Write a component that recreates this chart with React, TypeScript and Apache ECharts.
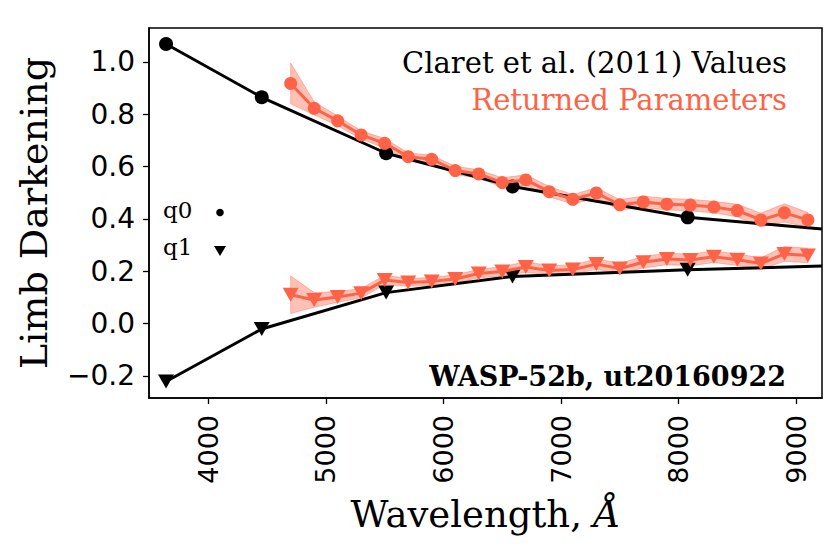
import React, { useEffect, useRef } from "react";
import * as echarts from "echarts";

// Claret et al. (2011) tabulated values (UBVRI) and where the curve meets the right frame
const claretWavelengths = [3640, 4454, 5512, 6587, 8077];
const claretQ0 = [1.069, 0.865, 0.651, 0.524, 0.406];
const claretQ1 = [-0.222, -0.021, 0.118, 0.180, 0.205];
const claretEdgeWavelength = 9220;
const claretEdgeQ0 = 0.361;
const claretEdgeQ1 = 0.22;

// Returned parameters
const fitWavelengths = [
  4700, 4900, 5100, 5300, 5500, 5700, 5900, 6100, 6300, 6500, 6700, 6900,
  7100, 7300, 7500, 7700, 7900, 8100, 8300, 8500, 8700, 8900, 9100,
];
const fitQ0 = [
  0.918, 0.823, 0.775, 0.721, 0.689, 0.638, 0.628, 0.585, 0.572, 0.539, 0.549,
  0.504, 0.475, 0.499, 0.454, 0.465, 0.456, 0.453, 0.445, 0.432, 0.396, 0.423,
  0.396,
];
const fitQ0Err = [
  0.078, 0.025, 0.018, 0.016, 0.018, 0.015, 0.015, 0.016, 0.016, 0.018, 0.02,
  0.02, 0.018, 0.02, 0.02, 0.022, 0.022, 0.022, 0.022, 0.024, 0.026, 0.035,
  0.028,
];
const fitQ1 = [
  0.11, 0.09, 0.101, 0.116, 0.166, 0.157, 0.161, 0.17, 0.191, 0.199, 0.216,
  0.203, 0.206, 0.227, 0.21, 0.234, 0.247, 0.243, 0.255, 0.244, 0.229, 0.266,
  0.26,
];
const fitQ1Err = [
  0.072, 0.028, 0.02, 0.018, 0.018, 0.015, 0.015, 0.016, 0.016, 0.018, 0.02,
  0.018, 0.018, 0.02, 0.02, 0.022, 0.022, 0.022, 0.022, 0.022, 0.022, 0.028,
  0.028,
];

const xTicks = [4000, 5000, 6000, 7000, 8000, 9000];
const yTicks = [-0.2, 0, 0.2, 0.4, 0.6, 0.8, 1.0];

const X_MIN = 3495;
const X_MAX = 9220;
const Y_MIN = -0.285;
const Y_MAX = 1.13;

const TOMATO = "#ff6347";
const BAND = "rgba(255,99,71,0.4)";
const SERIF = "DejaVu Serif";
const SANS = "DejaVu Sans";

function bandSeries(values: number[], errs: number[]) {
  return {
    type: "custom",
    clip: true,
    z: 1,
    silent: true,
    data: [[fitWavelengths[0], values[0]]],
    renderItem: (_params: any, api: any) => {
      const upper = fitWavelengths.map((w, i) => api.coord([w, values[i] + errs[i]]));
      const lower = fitWavelengths
        .map((w, i) => api.coord([w, values[i] - errs[i]]))
        .reverse();
      return {
        type: "polygon",
        shape: { points: upper.concat(lower) },
        style: { fill: BAND, stroke: BAND, lineWidth: 1 },
      };
    },
  };
}

export default function App() {
  const ref = useRef<HTMLDivElement>(null);

  useEffect(() => {
    if (!ref.current) return;
    const chart = echarts.init(ref.current, undefined, { renderer: "svg" });

    const claretLineQ0 = claretWavelengths
      .map((w, i) => [w, claretQ0[i]])
      .concat([[claretEdgeWavelength, claretEdgeQ0]]);
    const claretLineQ1 = claretWavelengths
      .map((w, i) => [w, claretQ1[i]])
      .concat([[claretEdgeWavelength, claretEdgeQ1]]);

    chart.setOption({
      animation: false,
      grid: {
        left: 149,
        right: 8,
        top: 28,
        bottom: 156,
        show: true,
        borderColor: "#000",
        borderWidth: 1.5,
        backgroundColor: "transparent",
      },
      xAxis: {
        type: "value",
        min: X_MIN,
        max: X_MAX,
        splitLine: { show: false },
        axisLine: { show: true, onZero: false, lineStyle: { color: "#000", width: 1.5 } },
        axisTick: {
          show: true,
          inside: false,
          length: 6,
          customValues: xTicks,
          lineStyle: { color: "#000", width: 1.3 },
        },
        axisLabel: {
          customValues: xTicks,
          rotate: 90,
          margin: 17,
          color: "#000",
          fontFamily: SANS,
          fontSize: 27,
          formatter: (v: number) => String(Math.round(v)),
        },
        name: "Wavelength, {i|Å}",
        nameLocation: "middle",
        nameGap: 98,
        nameTextStyle: {
          fontFamily: SERIF,
          fontSize: 37,
          color: "#000",
          rich: {
            i: { fontFamily: SERIF, fontSize: 37, fontStyle: "italic", color: "#000" },
          },
        },
      },
      yAxis: {
        type: "value",
        min: Y_MIN,
        max: Y_MAX,
        splitLine: { show: false },
        axisLine: { show: true, onZero: false, lineStyle: { color: "#000", width: 1.5 } },
        axisTick: {
          show: true,
          inside: false,
          length: 6,
          customValues: yTicks,
          lineStyle: { color: "#000", width: 1.3 },
        },
        axisLabel: {
          customValues: yTicks,
          margin: 14,
          color: "#000",
          fontFamily: SANS,
          fontSize: 28,
          formatter: (v: number) =>
            v < 0 ? "\u2212" + Math.abs(v).toFixed(1) : v.toFixed(1),
        },
        name: "Limb Darkening",
        nameLocation: "middle",
        nameRotate: 90,
        nameGap: 96,
        nameTextStyle: { fontFamily: SERIF, fontSize: 38, color: "#000" },
      },
      series: [
        bandSeries(fitQ0, fitQ0Err),
        bandSeries(fitQ1, fitQ1Err),
        {
          type: "line",
          data: claretLineQ0,
          showSymbol: false,
          symbol: "none",
          z: 2,
          lineStyle: { color: "#000", width: 3 },
          clip: true,
          silent: true,
        },
        {
          type: "line",
          data: claretLineQ1,
          showSymbol: false,
          symbol: "none",
          z: 2,
          lineStyle: { color: "#000", width: 3 },
          clip: true,
          silent: true,
        },
        {
          type: "scatter",
          data: claretWavelengths.map((w, i) => [w, claretQ0[i]]),
          symbol: "circle",
          symbolSize: 14,
          itemStyle: { color: "#000", opacity: 1 },
          z: 3,
          silent: true,
        },
        {
          type: "scatter",
          data: claretWavelengths.map((w, i) => [w, claretQ1[i]]),
          symbol: "triangle",
          symbolRotate: 180,
          symbolSize: [16, 14],
          itemStyle: { color: "#000", opacity: 1 },
          z: 3,
          silent: true,
        },
        {
          type: "line",
          data: fitWavelengths.map((w, i) => [w, fitQ0[i]]),
          symbol: "circle",
          symbolSize: 13,
          showSymbol: true,
          itemStyle: { color: TOMATO, borderWidth: 0 },
          lineStyle: { color: TOMATO, width: 3 },
          z: 4,
          silent: true,
        },
        {
          type: "line",
          data: fitWavelengths.map((w, i) => [w, fitQ1[i]]),
          symbol: "triangle",
          symbolRotate: 180,
          symbolSize: [16, 14],
          showSymbol: true,
          itemStyle: { color: TOMATO, borderWidth: 0 },
          lineStyle: { color: TOMATO, width: 3 },
          z: 4,
          silent: true,
        },
      ],
      graphic: [
        {
          type: "text",
          right: 43,
          top: 48,
          style: {
            text: "Claret et al. (2011) Values",
            fill: "#000",
            fontFamily: SERIF,
            fontSize: 29,
          },
        },
        {
          type: "text",
          right: 43,
          top: 85,
          style: {
            text: "Returned Parameters",
            fill: TOMATO,
            fontFamily: SERIF,
            fontSize: 29,
          },
        },
        {
          type: "text",
          left: 163,
          top: 198,
          style: { text: "q0", fill: "#000", fontFamily: SERIF, fontSize: 23 },
        },
        {
          type: "circle",
          shape: { cx: 220, cy: 212.5, r: 3.8 },
          style: { fill: "#000" },
        },
        {
          type: "text",
          left: 163,
          top: 235,
          style: { text: "q1", fill: "#000", fontFamily: SERIF, fontSize: 23 },
        },
        {
          type: "polygon",
          shape: {
            points: [
              [214, 246],
              [226, 246],
              [220, 256],
            ],
          },
          style: { fill: "#000" },
        },
        {
          type: "text",
          right: 44,
          top: 363,
          style: {
            text: "WASP-52b, ut20160922",
            fill: "#000",
            fontFamily: SERIF,
            fontSize: 27,
            fontWeight: "bold",
          },
        },
      ],
    });

    return () => chart.dispose();
  }, []);

  return (
    <div
      ref={ref}
      style={{ position: "fixed", left: 0, top: 0, width: 830, height: 554, background: "#fff" }}
    />
  );
}
